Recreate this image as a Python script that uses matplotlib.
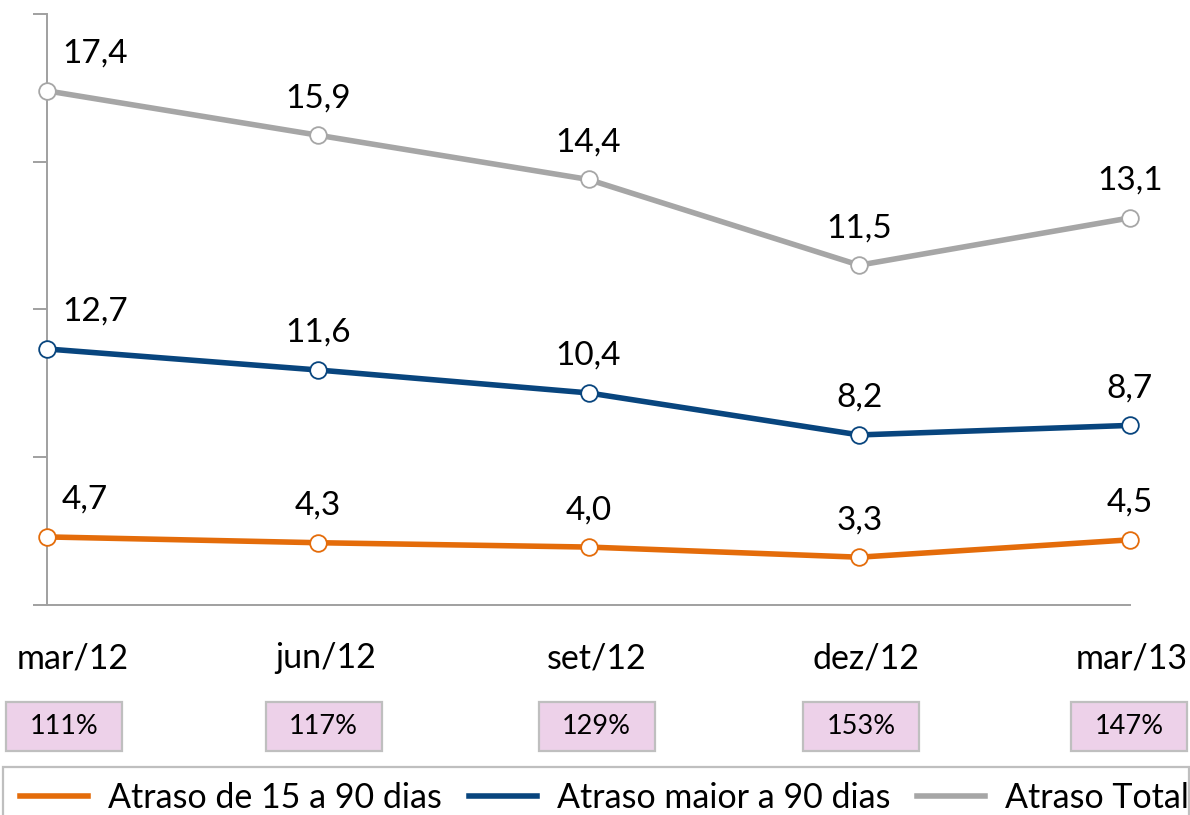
import numpy as np
import matplotlib
matplotlib.use("Agg")
import matplotlib.pyplot as plt
import matplotlib.transforms as mtransforms
from matplotlib.patches import Rectangle

plt.rcParams["font.family"] = ["Lato", "DejaVu Sans"]

# data
periods = ["mar/12", "jun/12", "set/12", "dez/12", "mar/13"]
atraso_15_90 = [4.7, 4.3, 4.0, 3.3, 4.5]
atraso_90 = [12.7, 11.6, 10.4, 8.2, 8.7]
atraso_total = [17.4, 15.9, 14.4, 11.5, 13.1]
cobertura = ["111%", "117%", "129%", "153%", "147%"]

c_orange = "#E46C0A"
c_blue = "#08457E"
c_gray = "#A6A6A6"
c_axis = "#A0A0A0"

W, H = 1190, 815
fig = plt.figure(figsize=(W / 100, H / 100), dpi=100)
ax = fig.add_axes([47 / W, 210 / H, (1130 - 47) / W, 591 / H])
ax_b = ax.twinx()
ax_o = ax.twinx()

x = np.arange(len(periods))

# each series was drawn on its own scale in the original
ax.set_ylim(0, 20)
ax_b.set_ylim(-0.7, 30.23)
ax_o.set_ylim(0, 40.8)
for a in (ax, ax_b, ax_o):
    a.set_xlim(0, 4)

series = [
    (ax_o, atraso_15_90, c_orange, "Atraso de 15 a 90 dias"),
    (ax_b, atraso_90, c_blue, "Atraso maior a 90 dias"),
    (ax, atraso_total, c_gray, "Atraso Total"),
]
handles = []
for a, vals, col, lab in series:
    a.plot(x, vals, color=col, lw=4, marker="o", ms=12,
           mfc="white", mec=col, mew=1.3, clip_on=False, zorder=5)
    handles.append(plt.Line2D([], [], color=col, lw=4, label=lab))
    for i, v in enumerate(vals):
        txt = f"{v:.1f}".replace(".", ",")
        if i == 0:
            a.annotate(txt, (i, v), xytext=(15, 28), textcoords="offset pixels",
                       ha="left", va="baseline", fontsize=24)
        else:
            a.annotate(txt, (i, v), xytext=(0, 28), textcoords="offset pixels",
                       ha="center", va="baseline", fontsize=24)

for a in (ax_b, ax_o):
    a.axis("off")

for s in ("top", "right"):
    ax.spines[s].set_visible(False)
for s in ("left", "bottom"):
    ax.spines[s].set_color(c_axis)
    ax.spines[s].set_linewidth(1.4)
ax.set_yticks([0, 5, 10, 15, 20])
ax.set_xticks([])
ax.tick_params(axis="y", length=10, width=1.4, color=c_axis, labelleft=False)

# category labels and coverage boxes below the plot
blend = mtransforms.blended_transform_factory(ax.transData, fig.transFigure)
cat_dx = [26, 8, 8, 7, 2]
box_dx = [17, 6, 8, 2, -1]
bw = 116 / ((1130 - 47) / 4)
for i, (p, c) in enumerate(zip(periods, cobertura)):
    tr = mtransforms.offset_copy(blend, fig=fig, x=cat_dx[i], y=0, units="dots")
    fig.text(i, 147 / H, p, transform=tr, ha="center", va="baseline", fontsize=24.5)
    tb = mtransforms.offset_copy(blend, fig=fig, x=box_dx[i], y=0, units="dots")
    rect = Rectangle((i - bw / 2, 64 / H), bw, 49 / H, transform=tb,
                     facecolor="#EDD1E9", edgecolor="#BFBFBF", lw=1.6, clip_on=False)
    fig.add_artist(rect)
    fig.text(i, 88.5 / H, c, transform=tb, ha="center", va="center", fontsize=19.5)

# legend box runs off the bottom edge like in the original
fig.add_artist(Rectangle((3 / W, -30 / H), 1186 / W, 78 / H, transform=fig.transFigure,
                         facecolor="none", edgecolor="#BFBFBF", lw=1.6))
leg = fig.legend(handles=handles, loc="center left",
                 bbox_to_anchor=(20 / W, 1 - 798 / H),
                 ncol=3, frameon=False, fontsize=24.5,
                 handlelength=2.0, handletextpad=0.58, columnspacing=0.8,
                 borderpad=0, borderaxespad=0)

fig.savefig("out.png", dpi=100)
